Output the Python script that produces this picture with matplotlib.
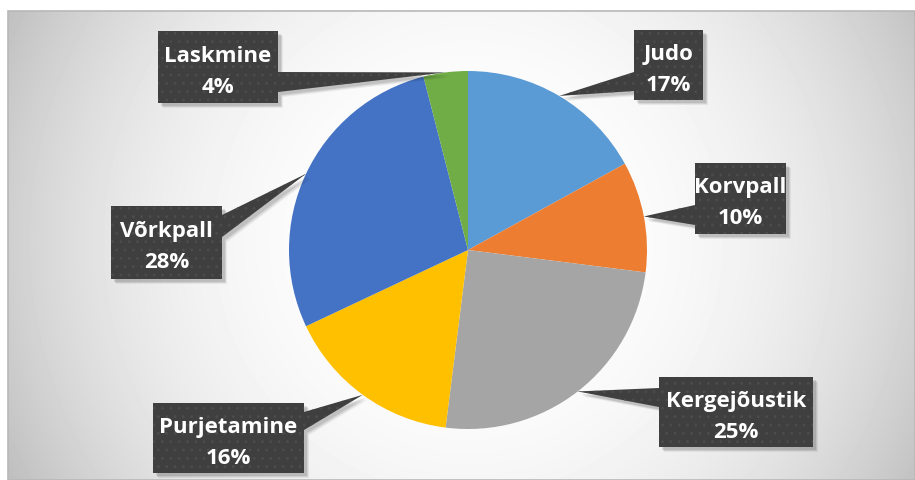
import matplotlib.pyplot as plt
import numpy as np
from matplotlib.patches import Polygon, Rectangle

sports = ['Judo', 'Korvpall', 'Kergejõustik', 'Purjetamine', 'Võrkpall', 'Laskmine']
shares = [17, 10, 25, 16, 28, 4]
colors = ['#5B9BD5', '#ED7D31', '#A5A5A5', '#FFC000', '#4472C4', '#70AD47']

W, H = 915, 480
def fy(y):
    return H - y

# callout boxes in pixels from top-left: left, top, right, bottom, pointer side, pointer base y1, y2
boxes = [
    (634, 30, 703, 100, 'left', 72, 91),
    (695, 163, 786, 234, 'left', 205, 225),
    (659, 377, 813, 447, 'left', 388, 407),
    (153, 403, 304, 473, 'right', 412, 430),
    (111, 206, 222, 279, 'right', 215, 237),
    (158, 31, 278, 103, 'right', 72, 92),
]

fig = plt.figure(figsize=(W / 100, H / 100), dpi=100)
ax = fig.add_axes([0, 0, 1, 1])

# radial grey background of the chart area
x0, y0 = 8, 11
xx, yy = np.meshgrid(np.arange(x0, W), np.arange(y0, H))
d = np.hypot(xx - 468, yy - 240) / 514.0
bg = 1 - 0.25 * np.clip(d, 0, 1.1) ** 2.5
ax.imshow(bg, cmap='gray', vmin=0, vmax=1, extent=[x0, W, fy(H), fy(y0)],
          origin='upper', zorder=0, aspect='auto')
ax.add_patch(Rectangle((x0, fy(H)), W - x0, H - y0, fill=False,
                       edgecolor='#b8b8b8', linewidth=1.2, zorder=1))

wedges, _ = ax.pie(shares, colors=colors, startangle=90, counterclock=False,
                   center=(468, fy(250)), radius=179,
                   wedgeprops=dict(linewidth=0), frame=True)
for w in wedges:
    w.set_zorder(2)

plt.rcParams['hatch.linewidth'] = 0.8
for w, name, val, b in zip(wedges, sports, shares, boxes):
    left, top, right, bottom, side, b1, b2 = b
    mid = np.deg2rad((w.theta1 + w.theta2) / 2)
    tip = (w.center[0] + w.r * np.cos(mid), w.center[1] + w.r * np.sin(mid))
    sx = left if side == 'left' else right
    rect = [(left, fy(top)), (right, fy(top)), (right, fy(bottom)), (left, fy(bottom))]
    tri = [(sx, fy(b1)), tip, (sx, fy(b2))]
    # soft drop shadow
    for k, a in [(5, 0.06), (4, 0.08), (3, 0.10)]:
        for pts in (rect, tri):
            ax.add_patch(Polygon([(px + k, py - k) for px, py in pts], closed=True,
                                 facecolor='black', alpha=a, linewidth=0, zorder=3))
    for pts in (rect, tri):
        ax.add_patch(Polygon(pts, closed=True, facecolor='#3f3f3f', edgecolor='#4c4c4c',
                             hatch='..', linewidth=0, zorder=4))
    cx = (left + right) / 2
    cy = (top + bottom) / 2
    ax.text(cx, fy(cy - 5), name, ha='center', va='baseline', color='white',
            fontsize=16, fontweight='bold', family='Open Sans', zorder=5)
    ax.text(cx, fy(cy + 26), f'{val}%', ha='center', va='baseline', color='white',
            fontsize=16, fontweight='bold', family='Open Sans', zorder=5)

ax.set_xlim(0, W)
ax.set_ylim(0, H)
ax.set_aspect('equal')
ax.axis('off')
fig.savefig('out.png', dpi=100, facecolor='white')
